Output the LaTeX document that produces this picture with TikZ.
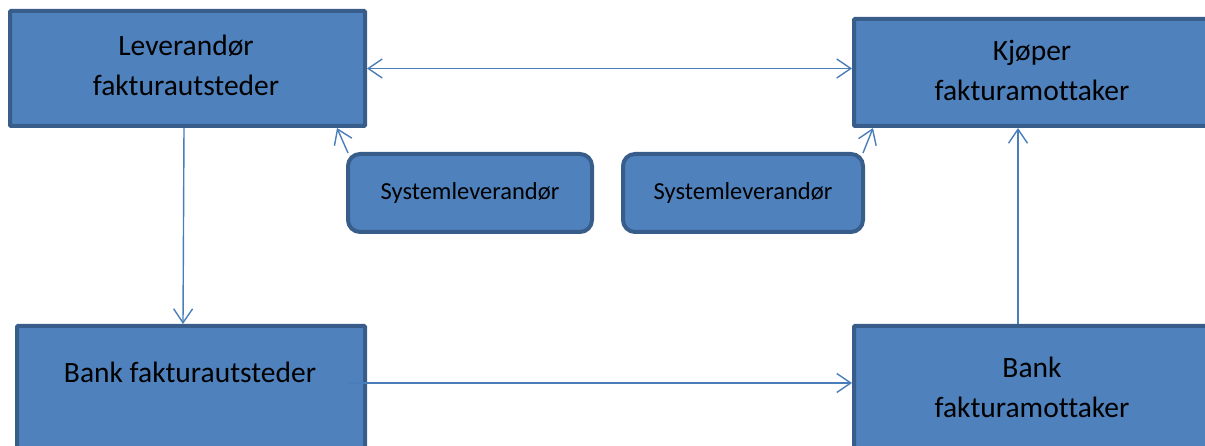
\documentclass[tikz,border=0pt]{standalone}
\usepackage{fontspec}
\setmainfont[Ligatures=NoCommon]{Carlito}
\usetikzlibrary{arrows.meta,calc}
\definecolor{boxfill}{HTML}{4F81BD}
\definecolor{boxline}{HTML}{385D8A}
\definecolor{arrowc}{HTML}{4A7EBB}
\begin{document}
\begin{tikzpicture}[x=1pt,y=-1pt,
  bigbox/.style={draw=boxline,fill=boxfill,line width=4pt,rectangle,rounded corners=1pt},
  sysbox/.style={draw=boxline,fill=boxfill,line width=4pt,rectangle,rounded corners=12pt,
     font=\fontsize{24.5}{28}\selectfont,text=black},
  bigtext/.style={font=\fontsize{29.5}{40}\selectfont,align=center,text=black},
  conn/.style={draw=arrowc,line width=1.4pt},
  tip/.style={-{Straight Barb[length=14pt,width=19pt,line width=1.4pt]}},
  tips/.style={{Straight Barb[length=14pt,width=19pt,line width=1.4pt]}-{Straight Barb[length=14pt,width=19pt,line width=1.4pt]}}]
\useasboundingbox (0,0) rectangle (1205,446);
\node[bigbox,minimum width=355pt,minimum height=115pt] (tl) at (187.5,68.5) {};
\node[bigbox,minimum width=356pt,minimum height=107pt] (tr) at (1032,72.5) {};
\node[bigbox,minimum width=348pt,minimum height=200pt] (bl) at (191,426) {};
\node[bigbox,minimum width=356pt,minimum height=200pt] (br) at (1032,426) {};
\node[sysbox,minimum width=244pt,minimum height=78pt] (s1) at (470,193) {\raisebox{4pt}{Systemleverandør}};
\node[sysbox,minimum width=240pt,minimum height=78pt] (s2) at (743,193) {\raisebox{4pt}{Systemleverandør}};
\node[bigtext] (tlt) at (186,65) {Leverandør\\fakturautsteder};
\node[bigtext] (trt) at (1032,70) {Kjøper\\fakturamottaker};
\node[bigtext] (blt) at (190,372) {Bank fakturautsteder};
\node[bigtext] (brt) at (1032,387) {Bank\\fakturamottaker};
% connectors
\draw[conn,tips] (tl.east) -- (tl.east -| tr.west);
\draw[conn,tip] ([xshift=-3.5pt]tl.south) -- ([xshift=-8pt]bl.north);
\draw[conn,tip] ([xshift=2pt,yshift=-1pt]s1.north west) -- ([xshift=-30pt]tl.south east);
\draw[conn,tip] ([xshift=-2pt,yshift=-1pt]s2.north east) -- ([xshift=21pt]tr.south west);
\draw[conn,tip] ([xshift=-14pt]br.north) -- ([xshift=-14pt]br.north |- tr.south);
\coordinate (bstart) at ($(bl.north east)+(-19,59)$);
\draw[conn,tip] (bstart) -- (bstart -| br.west);
\end{tikzpicture}
\end{document}
